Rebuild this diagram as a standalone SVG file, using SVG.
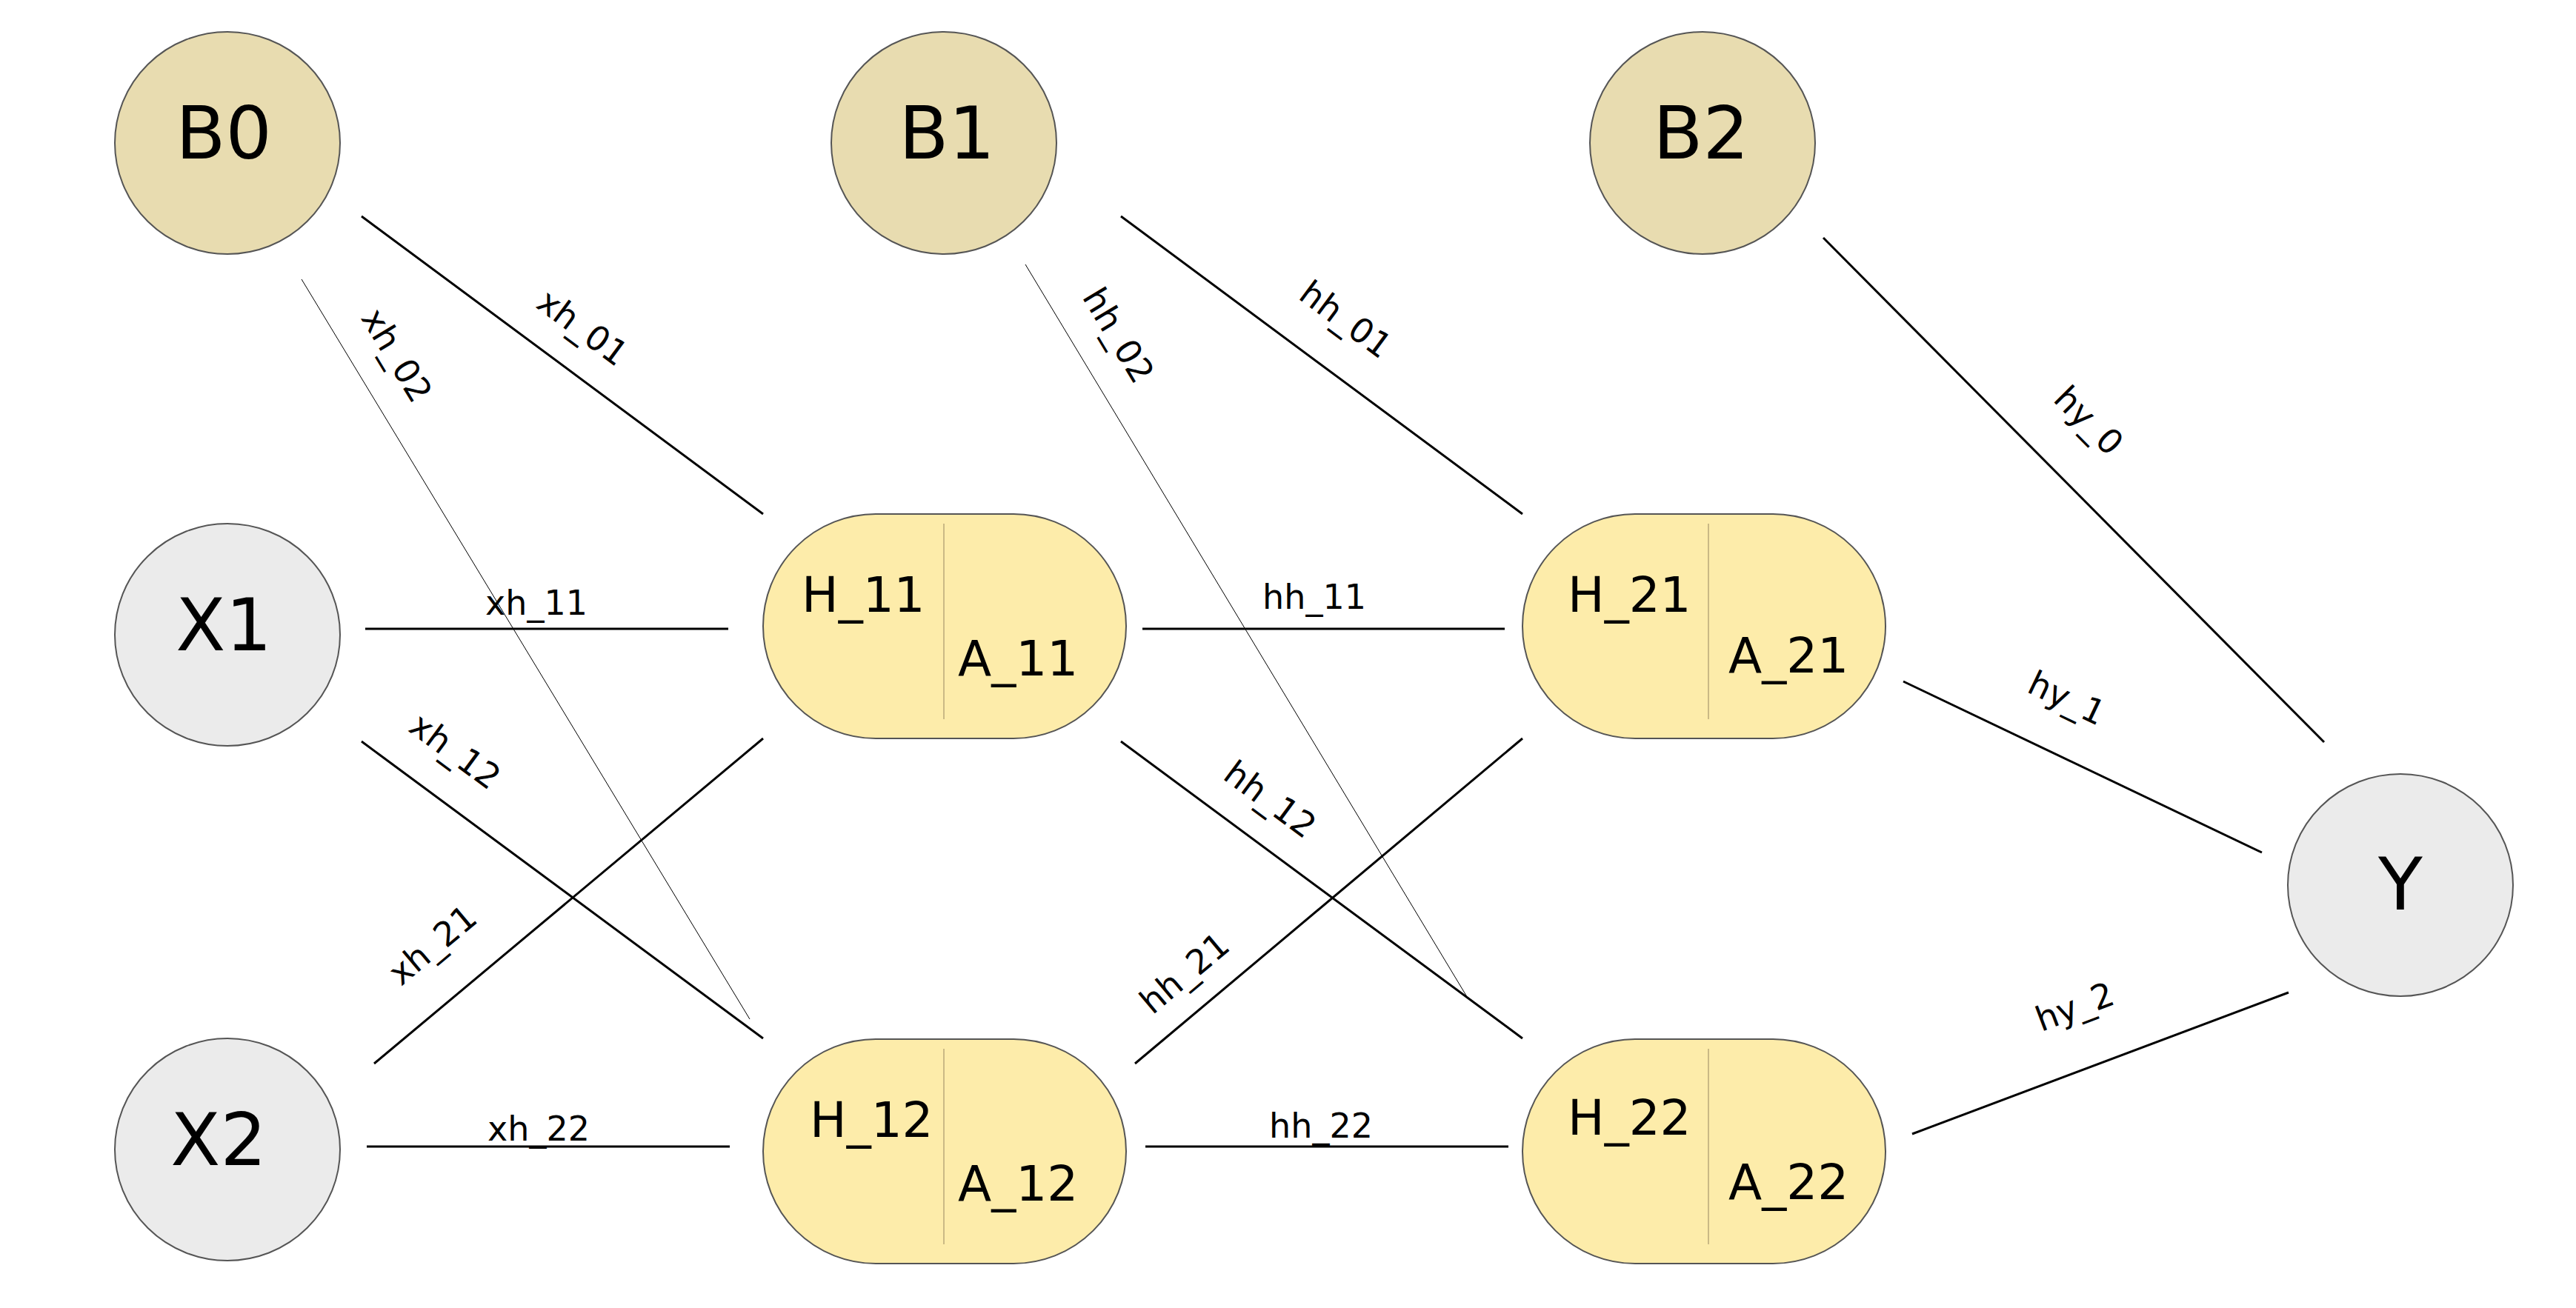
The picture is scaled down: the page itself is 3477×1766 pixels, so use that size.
<svg xmlns="http://www.w3.org/2000/svg" width="3477" height="1766" viewBox="0 0 3477 1766">
<style>
text{font-family:"DejaVu Sans",sans-serif;fill:#000}
.b{fill:#e8dcb0;stroke:#555;stroke-width:2}
.x{fill:#ebebeb;stroke:#555;stroke-width:2}
.h{fill:#fdecaa;stroke:#555;stroke-width:2}
.d{stroke:#b8a878;stroke-width:1.5}
.big{font-size:98px;text-anchor:middle}
.mid{font-size:66px}
.lab{font-size:46px;text-anchor:middle}
.e{stroke:#000;stroke-width:3;fill:none}
.t{stroke:#000;stroke-width:1;fill:none}
</style>
<rect width="3477" height="1766" fill="#fff"/>
<g id="connectors">
<line class="e" x1="488" y1="292" x2="1030" y2="694"/>
<line class="t" x1="407" y1="377" x2="1012" y2="1376"/>
<line class="e" x1="493" y1="849" x2="983" y2="849"/>
<line class="e" x1="488" y1="1001" x2="1030" y2="1402"/>
<line class="e" x1="505" y1="1436" x2="1030" y2="997"/>
<line class="e" x1="495" y1="1548" x2="985" y2="1548"/>
<line class="t" x1="1384" y1="357" x2="1982" y2="1349"/>
<line class="e" x1="1513" y1="292" x2="2055" y2="694"/>
<line class="e" x1="1542" y1="849" x2="2031" y2="849"/>
<line class="e" x1="1513" y1="1001" x2="2055" y2="1402"/>
<line class="e" x1="1532" y1="1436" x2="2055" y2="997"/>
<line class="e" x1="1546" y1="1548" x2="2036" y2="1548"/>
<line class="e" x1="2461" y1="321" x2="3137" y2="1002"/>
<line class="e" x1="2569" y1="920" x2="3053" y2="1151"/>
<line class="e" x1="2581" y1="1531" x2="3089" y2="1340"/>
<text class="lab" transform="translate(777,455) rotate(36.6)">xh_01</text>
<text class="lab" transform="translate(522,488) rotate(58.8)">xh_02</text>
<text class="lab" x="724" y="830">xh_11</text>
<text class="lab" transform="translate(605,1027) rotate(36.5)">xh_12</text>
<text class="lab" transform="translate(594,1288) rotate(-40)">xh_21</text>
<text class="lab" x="727" y="1540">xh_22</text>
<text class="lab" transform="translate(1496,461) rotate(59)">hh_02</text>
<text class="lab" transform="translate(1807,444) rotate(36.6)">hh_01</text>
<text class="lab" x="1774" y="822">hh_11</text>
<text class="lab" transform="translate(1705,1092) rotate(36.5)">hh_12</text>
<text class="lab" transform="translate(1609,1326) rotate(-40)">hh_21</text>
<text class="lab" x="1783" y="1536">hh_22</text>
<text class="lab" transform="translate(2808,579) rotate(45.2)">hy_0</text>
<text class="lab" transform="translate(2783,957) rotate(25.5)">hy_1</text>
<text class="lab" transform="translate(2806,1374) rotate(-20.7)">hy_2</text>
</g>
<g id="B0"><ellipse class="b" cx="307" cy="193" rx="152" ry="150"/><text class="big" x="302" y="214">B0</text></g>
<g id="B1"><ellipse class="b" cx="1274" cy="193" rx="152" ry="150"/><text class="big" x="1278" y="214">B1</text></g>
<g id="B2"><ellipse class="b" cx="2298" cy="193" rx="152" ry="150"/><text class="big" x="2296" y="214">B2</text></g>
<g id="X1"><ellipse class="x" cx="307" cy="857" rx="152" ry="150"/><text class="big" x="302" y="878">X1</text></g>
<g id="X2"><ellipse class="x" cx="307" cy="1552" rx="152" ry="150"/><text class="big" x="295" y="1573">X2</text></g>
<g id="Y"><ellipse class="x" cx="3240" cy="1195" rx="152" ry="150"/><text class="big" x="3240" y="1228">Y</text></g>
<g id="H_11"><rect class="h" x="1030" y="694" width="490" height="303" rx="152"/><line class="d" x1="1274" y1="707" x2="1274" y2="971"/><text class="mid" x="1082" y="826">H_11</text><text class="mid" x="1293" y="912">A_11</text></g>
<g id="H_12"><rect class="h" x="1030" y="1403" width="490" height="303" rx="152"/><line class="d" x1="1274" y1="1416" x2="1274" y2="1680"/><text class="mid" x="1093" y="1535">H_12</text><text class="mid" x="1293" y="1621">A_12</text></g>
<g id="H_21"><rect class="h" x="2055" y="694" width="490" height="303" rx="152"/><line class="d" x1="2306" y1="707" x2="2306" y2="971"/><text class="mid" x="2116" y="826">H_21</text><text class="mid" x="2333" y="908">A_21</text></g>
<g id="H_22"><rect class="h" x="2055" y="1403" width="490" height="303" rx="152"/><line class="d" x1="2306" y1="1416" x2="2306" y2="1680"/><text class="mid" x="2116" y="1532">H_22</text><text class="mid" x="2333" y="1619">A_22</text></g>
</svg>
